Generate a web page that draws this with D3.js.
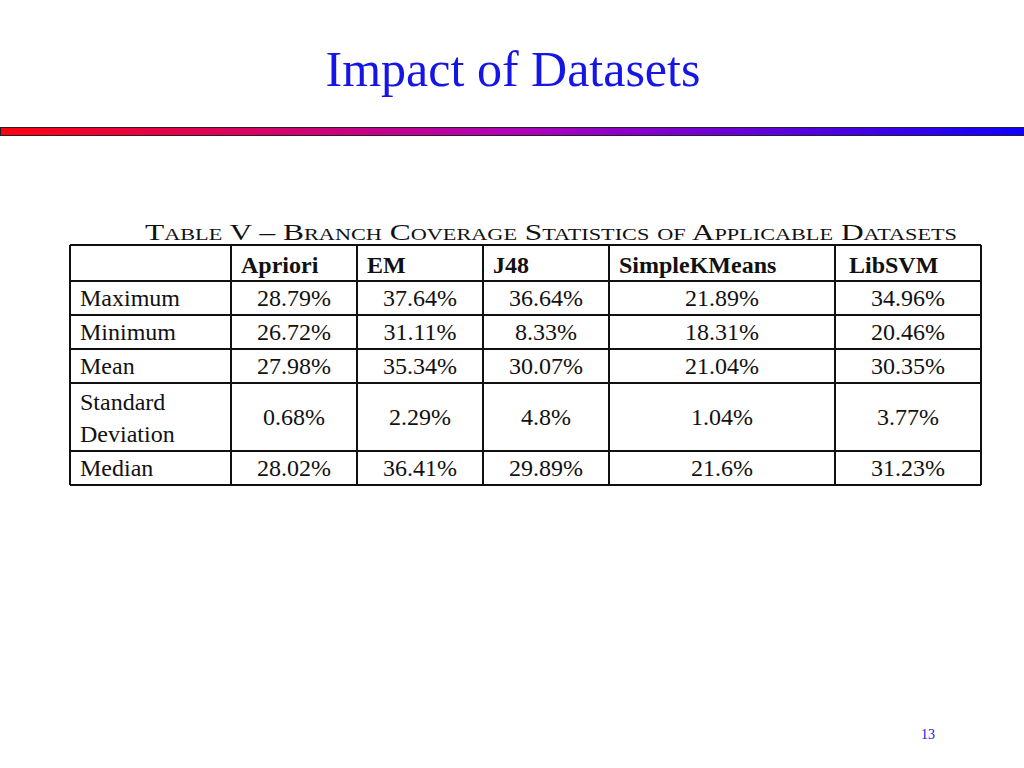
<!DOCTYPE html>
<html><head><meta charset="utf-8">
<script src="https://cdn.jsdelivr.net/npm/d3@7"></script>
<style>body{margin:0;background:#fff}</style>
</head><body>
<svg id="slide" width="1024" height="768"></svg>
<script>
// table data
var columns = ["", "Apriori", "EM", "J48", "SimpleKMeans", "LibSVM"];
var rowLabels = [["Maximum"], ["Minimum"], ["Mean"], ["Standard", "Deviation"], ["Median"]];
var apriori = ["28.79%", "26.72%", "27.98%", "0.68%", "28.02%"];
var em = ["37.64%", "31.11%", "35.34%", "2.29%", "36.41%"];
var j48 = ["36.64%", "8.33%", "30.07%", "4.8%", "29.89%"];
var kmeans = ["21.89%", "18.31%", "21.04%", "1.04%", "21.6%"];
var libsvm = ["34.96%", "20.46%", "30.35%", "3.77%", "31.23%"];
var series = [apriori, em, j48, kmeans, libsvm];

var svg = d3.select("#slide");
var serif = "'Liberation Serif', 'Times New Roman', serif";

// title
svg.append("text").attr("x", 513).attr("y", 86).attr("text-anchor", "middle")
  .attr("font-family", serif).attr("font-size", 50).attr("fill", "#1515e6")
  .text("Impact of Datasets");

// gradient bar
var grad = svg.append("defs").append("linearGradient").attr("id", "bar");
grad.append("stop").attr("offset", "0%").attr("stop-color", "#ff0010");
grad.append("stop").attr("offset", "50%").attr("stop-color", "#b000b8");
grad.append("stop").attr("offset", "100%").attr("stop-color", "#1000ff");
svg.append("rect").attr("x", 0.5).attr("y", 127.5).attr("width", 1023).attr("height", 8)
  .attr("fill", "url(#bar)").attr("stroke", "#222").attr("stroke-width", 1);

// caption
svg.append("text").attr("x", 145).attr("y", 240)
  .attr("font-family", serif).attr("font-size", 24).attr("fill", "#111")
  .style("font-variant", "small-caps")
  .attr("textLength", 812).attr("lengthAdjust", "spacingAndGlyphs")
  .text("Table V – Branch Coverage Statistics of Applicable Datasets");

// table grid
var colX = [70, 231, 357, 483, 609, 835, 981];
var rowY = [245, 281, 315, 349, 383, 451, 485];
var g = svg.append("g");
colX.forEach(function(x) {
  g.append("line").attr("x1", x).attr("x2", x).attr("y1", rowY[0]).attr("y2", rowY[rowY.length - 1])
    .attr("stroke", "#111").attr("stroke-width", 2);
});
rowY.forEach(function(y) {
  g.append("line").attr("x1", colX[0]).attr("x2", colX[colX.length - 1]).attr("y1", y).attr("y2", y)
    .attr("stroke", "#111").attr("stroke-width", 2);
});

// header
var headPad = [0, 10, 10, 10, 10, 14];
columns.forEach(function(c, i) {
  if (!c) return;
  g.append("text").attr("x", colX[i] + headPad[i]).attr("y", 273)
    .attr("font-family", serif).attr("font-size", 24).attr("font-weight", "bold").attr("fill", "#111")
    .text(c);
});

// rows
rowLabels.forEach(function(lab, r) {
  var top = rowY[r + 1], bot = rowY[r + 2];
  var mid = (top + bot) / 2;
  if (lab.length === 1) {
    g.append("text").attr("x", 80).attr("y", mid + 8).attr("font-family", serif)
      .attr("font-size", 24).attr("fill", "#111").text(lab[0]);
  } else {
    lab.forEach(function(l, k) {
      g.append("text").attr("x", 80).attr("y", top + 27 + k * 32).attr("font-family", serif)
        .attr("font-size", 24).attr("fill", "#111").text(l);
    });
  }
  series.forEach(function(s, c) {
    g.append("text").attr("x", (colX[c + 1] + colX[c + 2]) / 2).attr("y", mid + 8)
      .attr("text-anchor", "middle").attr("font-family", serif)
      .attr("font-size", 24).attr("fill", "#111").text(s[r]);
  });
});

// page number
svg.append("text").attr("x", 928).attr("y", 739).attr("text-anchor", "middle")
  .attr("font-family", serif).attr("font-size", 14).attr("fill", "#1515e6").text("13");
</script>
</body></html>
